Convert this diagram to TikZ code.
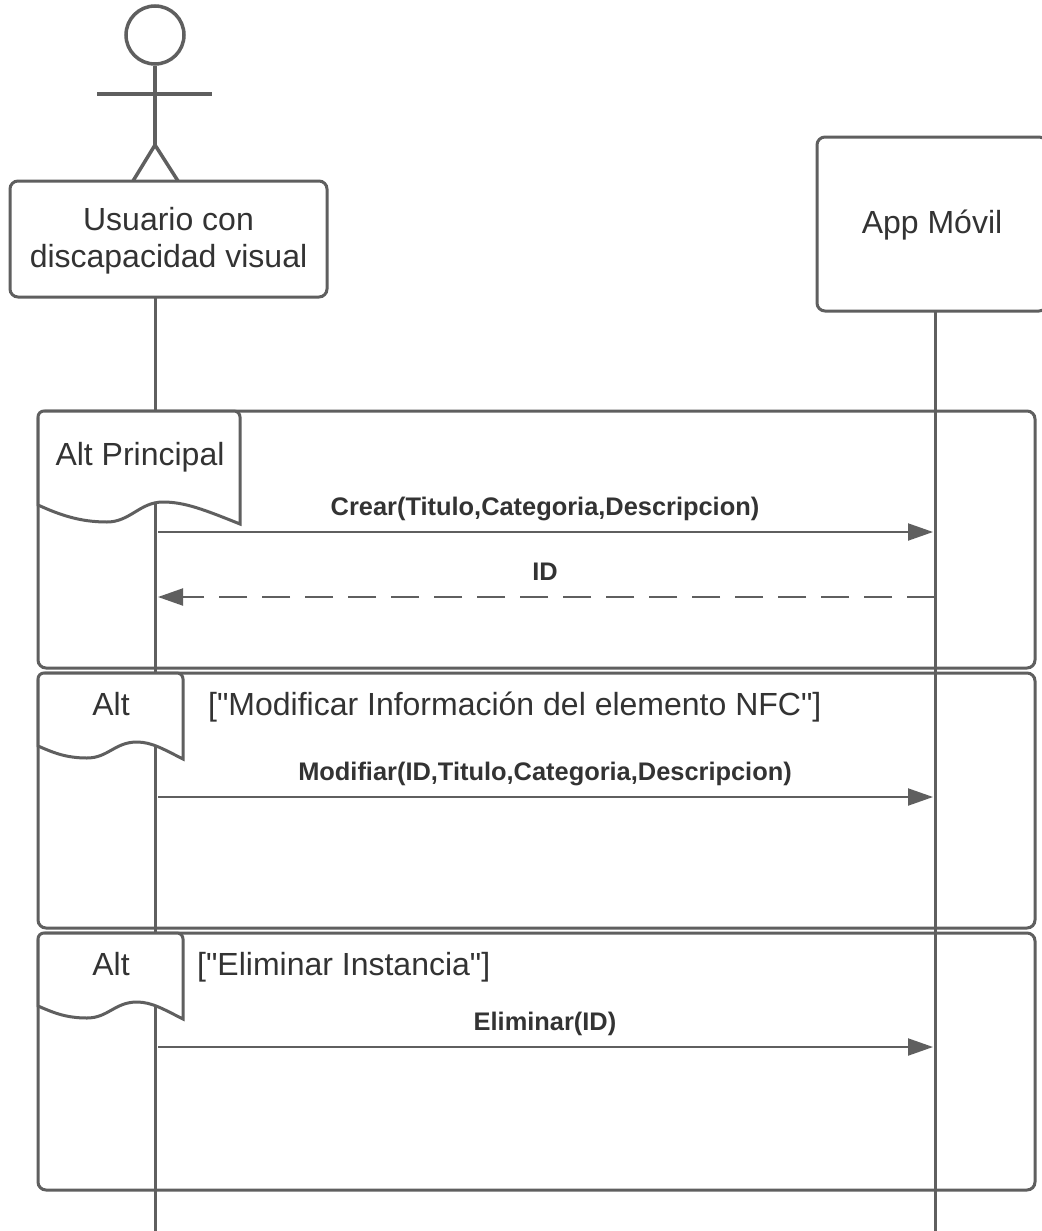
\documentclass[tikz,border=0pt]{standalone}
\usepackage{fontspec}
\setmainfont{Liberation Sans}[Ligatures=TeXOff]
\usetikzlibrary{arrows.meta}
\definecolor{lc}{RGB}{95,95,95}
\definecolor{tc}{RGB}{51,51,51}
\tikzset{
  lifeline/.style={draw=lc, line width=3pt},
  actorline/.style={draw=lc, line width=3.5pt},
  boxstyle/.style={draw=lc, line width=3pt, rounded corners=8pt, fill=white},
  framestyle/.style={draw=lc, line width=3pt, rounded corners=8pt},
  tabstyle/.style={draw=lc, line width=3pt, fill=white},
  bigtext/.style={text=tc, font=\fontsize{32}{37}\selectfont, inner sep=0pt, anchor=base},
  msgtext/.style={text=tc, font=\bfseries\fontsize{25.4}{30}\selectfont, inner sep=0pt, anchor=base},
  msg/.style={draw=lc, line width=2pt, -{Triangle[length=25pt,width=17pt]}},
  reply/.style={draw=lc, line width=2pt, dash pattern=on 28pt off 15pt, -{Triangle[length=25pt,width=17pt]}}
}
\begin{document}
\begin{tikzpicture}[x=1pt,y=-1pt]
\useasboundingbox (0,0) rectangle (1041,1231);
\fill[white] (0,0) rectangle (1041,1231);

% lifelines
\coordinate (ul0) at (155,297);
\coordinate (ul1) at (155,1231);
\coordinate (al0) at (935,311);
\coordinate (al1) at (935,1231);
\draw[lifeline] (ul0) -- (ul1);
\draw[lifeline] (al0) -- (al1);

% actor
\node[circle, draw=lc, line width=3.5pt, minimum size=58pt, inner sep=0pt] (head) at (155,35) {};
\coordinate (hip) at (155,145);
\coordinate (armL) at (97,94);
\coordinate (armR) at (212,94);
\coordinate (legL) at (133,181);
\coordinate (legR) at (178,181);
\draw[actorline] (head.south) -- (hip);
\draw[actorline] (armL) -- (armR);
\draw[actorline] (legL) -- (hip) -- (legR);

% participant boxes
\draw[boxstyle] (10,181) rectangle (327,297);
\node[bigtext] (u1) at (168.5,230) {Usuario con};
\node[bigtext] (u2) at (168.5,267) {discapacidad visual};
\draw[boxstyle] (817,137) rectangle (1047,311);
\node[bigtext] (app) at (932,233) {App Móvil};

% frames
\draw[framestyle] (38,411) rectangle (1035,668);
\draw[framestyle] (38,673) rectangle (1035,928);
\draw[framestyle] (38,933) rectangle (1035,1190);

% tabs
\draw[tabstyle] (38,505) -- (38,417) arc[start angle=180,end angle=270,radius=6] -- (234,411)
  arc[start angle=270,end angle=360,radius=6] -- (240,524)
  .. controls (205,510) and (185,502) .. (163,502)
  .. controls (140,502) and (130,522) .. (107,522)
  .. controls (80,522) and (60,515) .. (38,505) -- cycle;
\draw[tabstyle] (38,746) -- (38,679) arc[start angle=180,end angle=270,radius=6] -- (177,673)
  arc[start angle=270,end angle=360,radius=6] -- (183,759)
  .. controls (165,750) and (152,742) .. (137,742)
  .. controls (115,742) and (108,758) .. (87,758)
  .. controls (65,758) and (52,752) .. (38,746) -- cycle;
\draw[tabstyle] (38,1006) -- (38,939) arc[start angle=180,end angle=270,radius=6] -- (177,933)
  arc[start angle=270,end angle=360,radius=6] -- (183,1019)
  .. controls (165,1010) and (152,1002) .. (137,1002)
  .. controls (115,1002) and (108,1018) .. (87,1018)
  .. controls (65,1018) and (52,1012) .. (38,1006) -- cycle;

\node[bigtext] (t1) at (140,465) {Alt Principal};
\node[bigtext] (t2) at (111,715) {Alt};
\node[bigtext] (t3) at (111,975) {Alt};
\node[bigtext, anchor=base west] (g2) at (208,715) {["Modificar Información del elemento NFC"]};
\node[bigtext, anchor=base west] (g3) at (197,975) {["Eliminar Instancia"]};

% messages
\coordinate (m1s) at (158,532);
\coordinate (m1e) at (933,532);
\coordinate (m2s) at (935,597);
\coordinate (m2e) at (158,597);
\coordinate (m3s) at (158,797);
\coordinate (m3e) at (933,797);
\coordinate (m4s) at (158,1047);
\coordinate (m4e) at (933,1047);
\draw[msg] (m1s) -- (m1e);
\draw[reply] (m2s) -- (m2e);
\draw[msg] (m3s) -- (m3e);
\draw[msg] (m4s) -- (m4e);
\node[msgtext] (l1) at (545,515) {Crear(Titulo,Categoria,Descripcion)};
\node[msgtext] (l2) at (545,580) {ID};
\node[msgtext] (l3) at (545,780) {Modifiar(ID,Titulo,Categoria,Descripcion)};
\node[msgtext] (l4) at (545,1030) {Eliminar(ID)};
\end{tikzpicture}
\end{document}
